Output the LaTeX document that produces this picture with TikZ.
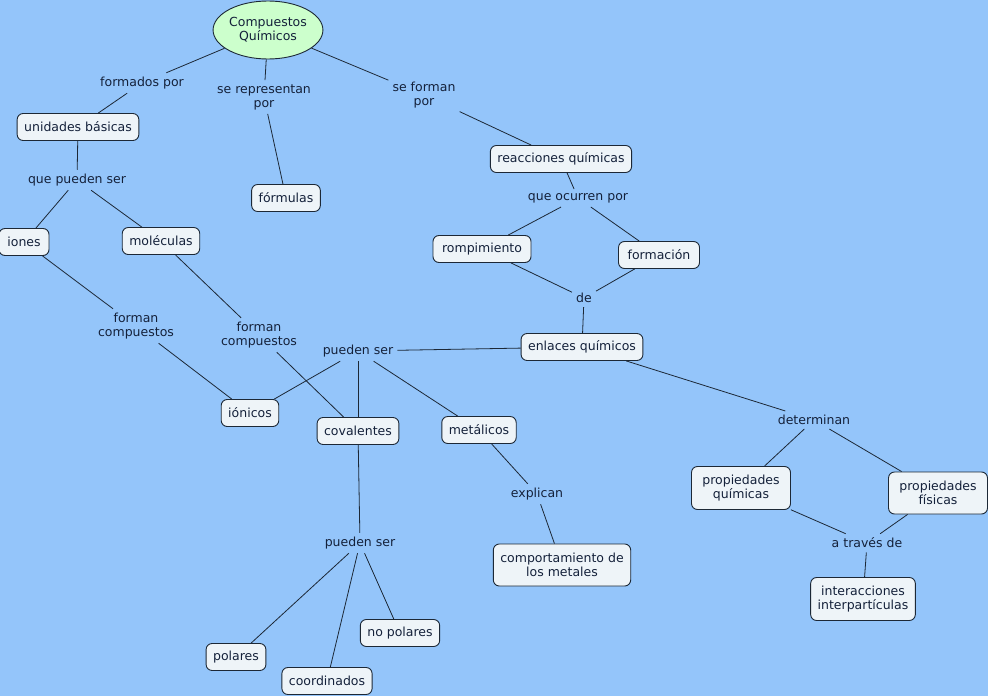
\documentclass[tikz,border=0pt]{standalone}
\usepackage{fontspec}
\setmainfont{DejaVu Sans}
\usetikzlibrary{shapes.geometric}
\definecolor{bg}{HTML}{94C5FA}
\definecolor{boxfill}{HTML}{EEF4F8}
\definecolor{ellfill}{HTML}{CCFFCC}
\definecolor{ln}{HTML}{1C2836}
\definecolor{tx}{HTML}{14213A}
\tikzset{
  concept/.style={draw=ln, line width=0.9pt, fill=boxfill, rounded corners=6pt,
    inner xsep=7pt, inner ysep=3pt, minimum height=27pt, align=center, text=tx,
    font=\fontsize{12.5}{14}\selectfont},
  lbl/.style={inner sep=4pt, align=center, text=tx, font=\fontsize{12.5}{14}\selectfont},
  conn/.style={draw=ln, line width=0.8pt}
}
\begin{document}
\begin{tikzpicture}[x=1pt,y=-1pt]
\fill[bg] (0,0) rectangle (988,696);
\useasboundingbox (0,0) rectangle (988,696);

% concepts
\node[ellipse, draw=ln, line width=0.9pt, fill=ellfill, minimum width=106pt, minimum height=58pt,
  inner sep=0pt, align=center, text=tx, font=\fontsize{12.5}{14}\selectfont] (cq) at (268,30) {Compuestos\\Químicos};
\node[concept] (ub) at (78,127) {unidades básicas};
\node[concept] (fo) at (286,198) {fórmulas};
\node[concept] (rq) at (561,159) {reacciones químicas};
\node[concept, minimum width=98pt] (ro) at (482,249) {rompimiento};
\node[concept, minimum width=81pt] (fm) at (659,255) {formación};
\node[concept, minimum width=50pt] (io) at (24,242) {iones};
\node[concept] (mo) at (161,241) {moléculas};
\node[concept] (en) at (582,347) {enlaces químicos};
\node[concept] (ion) at (250,413) {iónicos};
\node[concept] (co) at (358,431) {covalentes};
\node[concept] (me) at (479,430) {metálicos};
\node[concept, minimum width=99pt, minimum height=43pt] (pq) at (741,488) {propiedades\\químicas};
\node[concept, minimum width=99pt, minimum height=42pt] (pf) at (938,493) {propiedades\\físicas};
\node[concept, minimum height=42pt] (cm) at (562,565) {comportamiento de\\los metales};
\node[concept, minimum height=43pt] (ip) at (863,599) {interacciones\\interpartículas};
\node[concept] (np) at (400,633) {no polares};
\node[concept] (po) at (236,657) {polares};
\node[concept] (cd) at (327,681) {coordinados};

% linking phrases
\node[lbl] (l1) at (142,83) {formados por};
\node[lbl] (l2) at (264,97) {se representan\\por};
\node[lbl] (l3) at (424,95) {se forman\\por};
\node[lbl] (l4) at (77,180) {que pueden ser};
\node[lbl] (l5) at (578,198) {que ocurren por};
\node[lbl] (l6) at (584,298) {de};
\node[lbl] (l7) at (136,326) {forman\\compuestos};
\node[lbl] (l8) at (259,335) {forman\\compuestos};
\node[lbl] (l9) at (358,351) {pueden ser};
\node[lbl] (l10) at (814,420) {determinan};
\node[lbl] (l11) at (537,494) {explican};
\node[lbl] (l12) at (867,543) {a través de};
\node[lbl] (l13) at (360,543) {pueden ser};

% connectors
\draw[conn] (cq) -- (l1);  \draw[conn] (l1) -- (ub);
\draw[conn] (cq) -- (l2);  \draw[conn] (l2) -- (fo);
\draw[conn] (cq) -- (l3);  \draw[conn] (l3) -- (rq);
\draw[conn] (ub) -- (l4);  \draw[conn] (l4) -- (io);  \draw[conn] (l4) -- (mo);
\draw[conn] (io) -- (l7);  \draw[conn] (l7) -- (ion);
\draw[conn] (mo) -- (l8);  \draw[conn] (l8) -- (co);
\draw[conn] (rq) -- (l5);  \draw[conn] (l5) -- (ro);  \draw[conn] (l5) -- (fm);
\draw[conn] (ro) -- (l6);  \draw[conn] (fm) -- (l6);  \draw[conn] (l6) -- (en);
\draw[conn] (en) -- (l9);
\draw[conn] (l9) -- (ion); \draw[conn] (l9) -- (co);  \draw[conn] (l9) -- (me);
\draw[conn] (en) -- (l10); \draw[conn] (l10) -- (pq); \draw[conn] (l10) -- (pf);
\draw[conn] (me) -- (l11); \draw[conn] (l11) -- (cm);
\draw[conn] (co) -- (l13);
\draw[conn] (l13) -- (po); \draw[conn] (l13) -- (cd); \draw[conn] (l13) -- (np);
\draw[conn] (pq) -- (l12); \draw[conn] (pf) -- (l12); \draw[conn] (l12) -- (ip);
\end{tikzpicture}
\end{document}
